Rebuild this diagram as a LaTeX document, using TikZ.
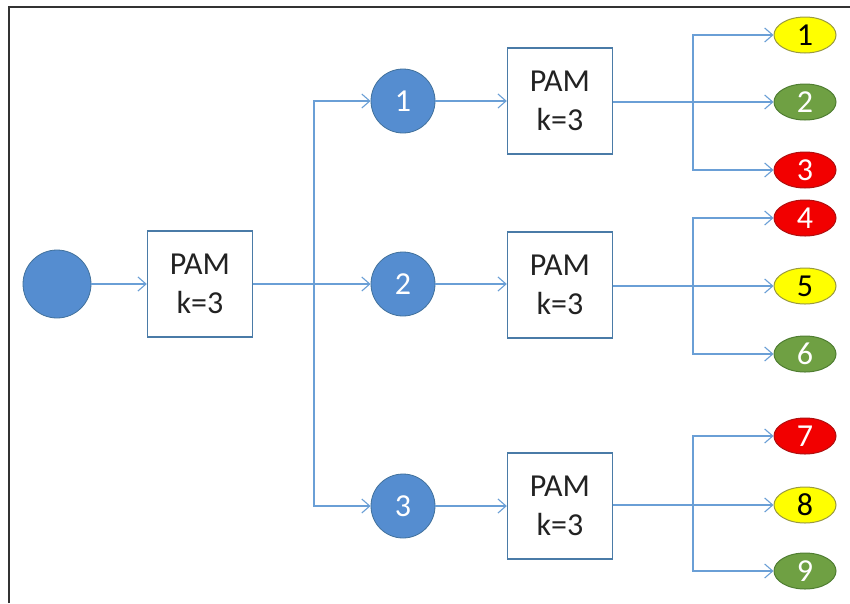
\documentclass[tikz,border=0pt]{standalone}
\usepackage{fontspec}
\setmainfont{Carlito}
\usetikzlibrary{arrows.meta,shapes.geometric}

\definecolor{linkblue}{HTML}{6A9FD6}
\definecolor{nodeblue}{HTML}{558DD0}
\definecolor{nodeedge}{HTML}{41719C}
\definecolor{boxedge}{HTML}{4A7BA7}
\definecolor{leafgreen}{HTML}{6FA043}
\definecolor{leafgreenedge}{HTML}{507E32}
\definecolor{leafred}{HTML}{F20000}
\definecolor{leafrededge}{HTML}{B01010}
\definecolor{leafyellow}{HTML}{FFFF00}
\definecolor{leafyellowedge}{HTML}{9A9A40}
\definecolor{framegray}{HTML}{333333}
\definecolor{textgray}{HTML}{222222}

\tikzset{
  labelfont/.style={font=\fontsize{32}{39}\selectfont},
  pambox/.style={draw=boxedge, line width=1.4pt, fill=white,
    minimum width=105pt, minimum height=106pt, inner sep=0pt,
    align=center, text=textgray, labelfont},
  hub/.style={circle, fill=nodeblue, draw=nodeedge, line width=0.8pt,
    minimum size=64pt, inner sep=0pt, text=white, labelfont},
  leaf/.style={ellipse, line width=1pt, minimum width=62pt,
    minimum height=36pt, inner sep=0pt, labelfont},
  yleaf/.style={leaf, fill=leafyellow, draw=leafyellowedge, text=black},
  gleaf/.style={leaf, fill=leafgreen, draw=leafgreenedge, text=white},
  rleaf/.style={leaf, fill=leafred, draw=leafrededge, text=white},
  link/.style={draw=linkblue, line width=1.2pt,
    -{Straight Barb[length=8pt,width=14pt,line width=1.1pt]}},
}

\begin{document}
\begin{tikzpicture}[x=1pt,y=-1pt]
  \useasboundingbox (0,0) rectangle (850,603);
  \fill[white] (0,0) rectangle (850,603);

  % frame along the top and left edges
  \draw[framegray, line width=2pt] (9,603) -- (9,7) -- (850,7);

  % root and first clustering step
  \node[hub, minimum size=68pt] (root) at (57,284) {};
  \node[pambox] (p0) at (200,284) {PAM\\k=3};

  % first-level clusters
  \node[hub] (c1) at (403,101) {1};
  \node[hub] (c2) at (403,284) {2};
  \node[hub] (c3) at (403,506) {3};

  % second clustering step for each cluster
  \node[pambox] (p1) at (560,101) {PAM\\k=3};
  \node[pambox] (p2) at (560,285) {PAM\\k=3};
  \node[pambox] (p3) at (560,506) {PAM\\k=3};

  % final clusters
  \node[yleaf] (l1) at (805,35)  {1};
  \node[gleaf] (l2) at (805,102) {2};
  \node[rleaf] (l3) at (805,170) {3};
  \node[rleaf] (l4) at (805,218) {4};
  \node[yleaf] (l5) at (805,286) {5};
  \node[gleaf] (l6) at (805,354) {6};
  \node[rleaf] (l7) at (805,436) {7};
  \node[yleaf] (l8) at (805,505) {8};
  \node[gleaf] (l9) at (805,571) {9};

  % branching points
  \coordinate (j0) at (314,284);
  \coordinate (j1) at (693,102);
  \coordinate (j2) at (693,286);
  \coordinate (j3) at (693,505);

  % connectors
  \path[link] (root) -- (p0);
  \path[link] (p0.east) -- (c2);
  \path[link] (j0) |- (c1);
  \path[link] (j0) |- (c3);

  \path[link] (c1) -- (c1 -| p1.west);
  \path[link] (c2) -- (c2 -| p2.west);
  \path[link] (c3) -- (c3 -| p3.west);

  \path[link] (p1.east |- l2) -- (l2);
  \path[link] (j1) |- (l1);
  \path[link] (j1) |- (l3);

  \path[link] (p2.east |- l5) -- (l5);
  \path[link] (j2) |- (l4);
  \path[link] (j2) |- (l6);

  \path[link] (p3.east |- l8) -- (l8);
  \path[link] (j3) |- (l7);
  \path[link] (j3) |- (l9);
\end{tikzpicture}
\end{document}
